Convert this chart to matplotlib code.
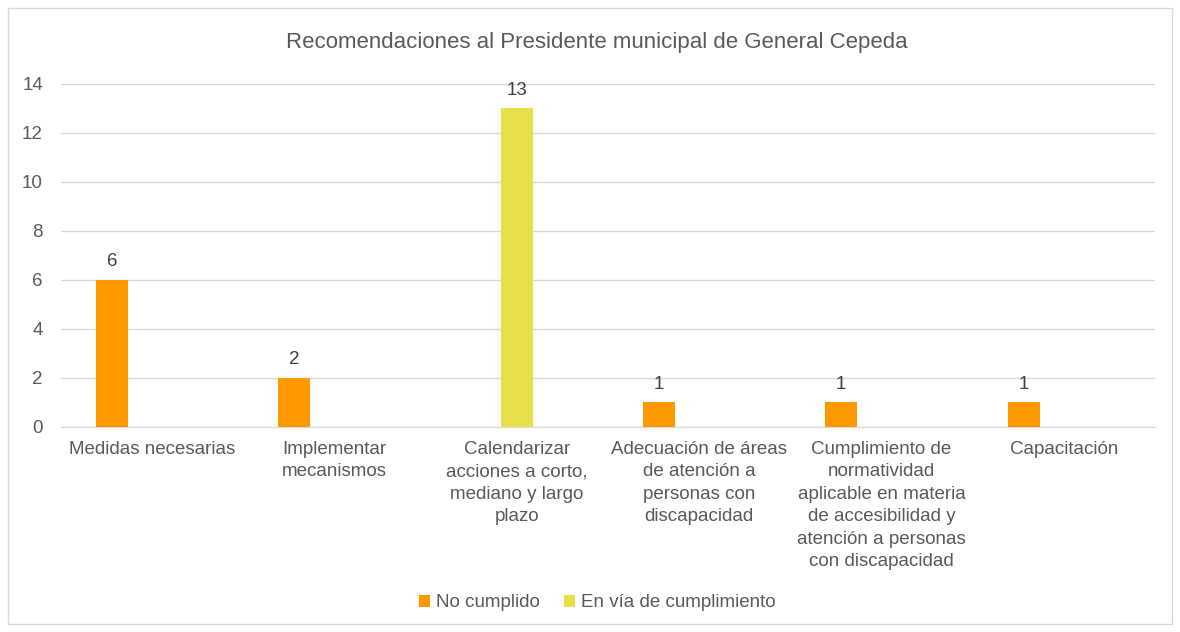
import matplotlib.pyplot as plt
import numpy as np
from matplotlib.patches import Rectangle

plt.rcParams['font.family'] = ['Liberation Sans', 'DejaVu Sans']

# Datos
categorias = ['Medidas necesarias', 'Implementar\nmecanismos',
              'Calendarizar\nacciones a corto,\nmediano y largo\nplazo',
              'Adecuación de áreas\nde atención a\npersonas con\ndiscapacidad',
              'Cumplimiento de\nnormatividad\naplicable en materia\nde accesibilidad y\natención a personas\ncon discapacidad',
              'Capacitación']
no_cumplido = [6, 2, 0, 1, 1, 1]
en_via = [0, 0, 13, 0, 0, 0]

gris = '#595959'
naranja = '#FF9900'
amarillo = '#E6DF4A'

fig = plt.figure(figsize=(11.8, 6.32), dpi=100)
ax = fig.add_axes([0.0517, 0.3244, 0.927, 0.5427])

# borde exterior
fig.patches.append(Rectangle((8 / 1180, 8 / 632), 1164 / 1180, 616 / 632, transform=fig.transFigure,
                             fill=False, edgecolor='#D9D9D9', linewidth=1))

x = np.arange(len(categorias))
ancho = 0.175
desp = 0.22

b1 = ax.bar(x - desp, no_cumplido, ancho, color=naranja, label='No cumplido', zorder=3)
b2 = ax.bar(x, en_via, ancho, color=amarillo, label='En vía de cumplimiento', zorder=3)

for barras, vals in [(b1, no_cumplido), (b2, en_via)]:
    for b, v in zip(barras, vals):
        if v > 0:
            ax.annotate(str(v), (b.get_x() + b.get_width() / 2, v), xytext=(0, 7),
                        textcoords='offset points', ha='center', va='bottom',
                        fontsize=13.5, color='#404040')

ax.set_xlim(-0.5, len(categorias) - 0.5)
ax.set_ylim(0, 14)
ax.set_yticks(range(0, 15, 2))
ax.grid(axis='y', color='#D9D9D9', linewidth=1, zorder=0)
for s in ['top', 'right', 'left']:
    ax.spines[s].set_visible(False)
ax.spines['bottom'].set_color('#D9D9D9')
ax.tick_params(axis='both', length=0, labelsize=13.5, labelcolor=gris)
ax.tick_params(axis='y', pad=13)
ax.set_xticks(x)
ax.set_xticklabels(categorias, linespacing=1.42)
ax.tick_params(axis='x', pad=10)

fig.text(0.506, 0.933, 'Recomendaciones al Presidente municipal de General Cepeda',
         ha='center', va='center', fontsize=16, color=gris)

fig.legend(handles=[b1, b2], loc='center', bbox_to_anchor=(0.506, 0.046), ncol=2,
           frameon=False, fontsize=13.5, labelcolor=gris, handlelength=0.6, handleheight=0.6,
           handletextpad=0.3, columnspacing=1.3)

plt.savefig('out.png', dpi=100)
